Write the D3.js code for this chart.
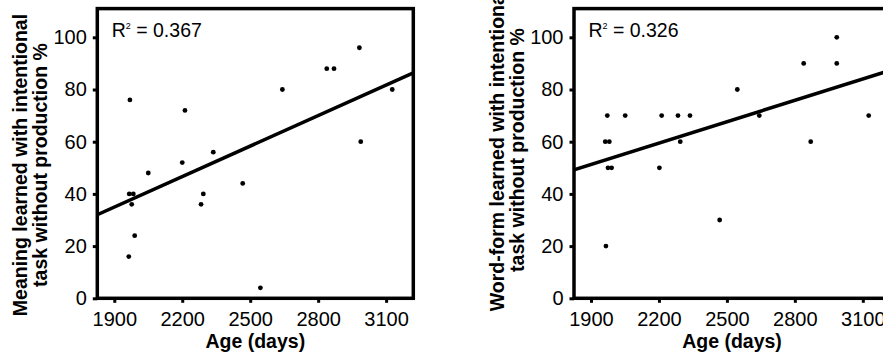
<!DOCTYPE html>
<html>
<head>
<meta charset="utf-8">
<script src="https://cdn.jsdelivr.net/npm/d3@7"></script>
<style>
  body { margin: 0; background: #fff; }
  svg { display: block; font-family: "Liberation Sans", Arial, sans-serif; }
</style>
</head>
<body>
<svg id="chart"></svg>
<script>
// values
const meaningAge = [1969, 2212, 2050, 2200, 2337, 2642, 2838, 2870, 2982, 2988, 3127,
  1966, 1984, 1977, 1990, 1964, 2283, 2293, 2467, 2545];
const meaningPct = [76, 72, 48, 52, 56, 80, 88, 88, 96, 60, 80,
  40, 40, 36, 24, 16, 36, 40, 44, 4];

const wordAge = [1972, 2051, 2212, 2284, 2337, 1963, 1981, 2294, 1975, 1991, 2202,
  2546, 2643, 2839, 2870, 2985, 2985, 3126, 1966, 2468];
const wordPct = [70, 70, 70, 70, 70, 60, 60, 60, 50, 50, 50,
  80, 70, 90, 60, 100, 90, 70, 20, 30];

const xTicks = [1900, 2200, 2500, 2800, 3100];
const yTicks = [0, 20, 40, 60, 80, 100];
const r2Values = ["0.367", "0.326"];
const yTitles = [
  ["Meaning learned with intentional", "task without production %"],
  ["Word-form learned with intentional", "task without production %"]
];
const xTitle = "Age (days)";

const width = 883, height = 359;
const plotW = 316, plotTop = 8.6, plotH = 289.7;
const panels = [
  { left: 97.3, age: meaningAge, pct: meaningPct, labelMid: 165 },
  { left: 574, age: wordAge, pct: wordPct, labelMid: 150 }
];

const svg = d3.select("#chart").attr("width", width).attr("height", height);

const x = d3.scaleLinear().domain([1825, 3220]).range([0, plotW]);
const y = d3.scaleLinear().domain([0, 111]).range([plotH, 0]);

const fit = (xs, ys) => {
  const mx = d3.mean(xs), my = d3.mean(ys);
  let sxy = 0, sxx = 0;
  xs.forEach((v, i) => { sxy += (v - mx) * (ys[i] - my); sxx += (v - mx) ** 2; });
  const slope = sxy / sxx;
  return v => my + slope * (v - mx);
};

panels.forEach((p, k) => {
  const g = svg.append("g").attr("transform", `translate(${p.left},${plotTop})`);

  g.append("clipPath").attr("id", "clip" + k)
    .append("rect").attr("width", plotW).attr("height", plotH);

  // axes
  const xAxis = g.append("g")
    .attr("transform", `translate(0,${plotH})`)
    .call(d3.axisBottom(x).tickValues(xTicks).tickSize(4.5).tickPadding(9).tickFormat(d3.format("d")));
  const yAxis = g.append("g")
    .call(d3.axisLeft(y).tickValues(yTicks).tickSize(4.5).tickPadding(6).tickFormat(d3.format("d")));
  [xAxis, yAxis].forEach(a => {
    a.attr("font-family", null).attr("font-size", 20);
    a.select(".domain").remove();
    a.selectAll(".tick line").attr("stroke", "#000").attr("stroke-width", 3);
    a.selectAll(".tick text").attr("fill", "#000");
  });

  // data points
  g.append("g").selectAll("circle")
    .data(p.age.map((a, i) => [a, p.pct[i]]))
    .join("circle")
    .attr("cx", d => x(d[0]))
    .attr("cy", d => y(d[1]))
    .attr("r", 2.4)
    .attr("fill", "#000");

  // regression line
  const f = fit(p.age, p.pct);
  const [x0, x1] = x.domain();
  g.append("line")
    .attr("clip-path", `url(#clip${k})`)
    .attr("x1", x(x0)).attr("y1", y(f(x0)))
    .attr("x2", x(x1)).attr("y2", y(f(x1)))
    .attr("stroke", "#000")
    .attr("stroke-width", 3.5);

  // frame
  g.append("rect")
    .attr("width", plotW).attr("height", plotH)
    .attr("fill", "none")
    .attr("stroke", "#000")
    .attr("stroke-width", 3.5);

  // R squared
  const r2 = g.append("text")
    .attr("x", 14.4).attr("y", 37.4 - plotTop)
    .attr("font-size", 19.5).attr("fill", "#000");
  r2.append("tspan").text("R");
  r2.append("tspan").attr("font-size", 9).attr("dy", -8).text("2");
  r2.append("tspan").attr("dy", 8).text(" = " + r2Values[k]);

  // x title
  g.append("text")
    .attr("x", plotW / 2).attr("y", 348 - plotTop)
    .attr("text-anchor", "middle")
    .attr("font-size", 19.5).attr("font-weight", "bold")
    .text(xTitle);

  // y title (two lines)
  const yt = svg.append("text")
    .attr("transform", `translate(${p.left - 97.3},${p.labelMid}) rotate(-90)`)
    .attr("text-anchor", "middle")
    .attr("font-size", 19.5).attr("font-weight", "bold");
  yTitles[k].forEach((line, j) => {
    yt.append("tspan").attr("x", 0).attr("y", 27 + j * 20).text(line);
  });
});
</script>
</body>
</html>
